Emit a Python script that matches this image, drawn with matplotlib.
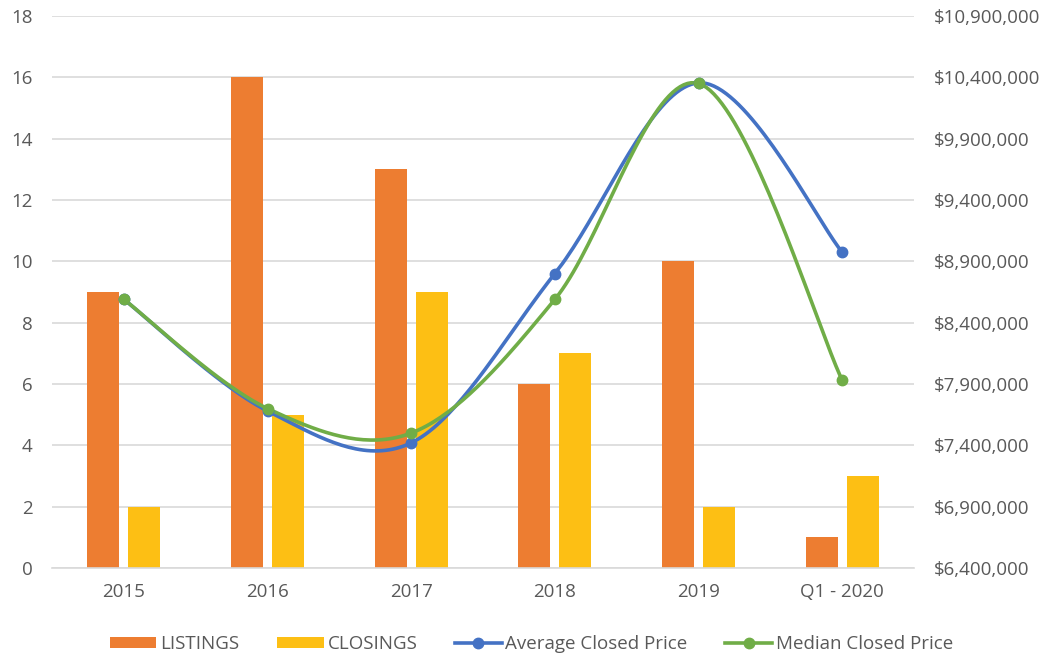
import numpy as np
import matplotlib.pyplot as plt
from matplotlib.ticker import FuncFormatter

plt.rcParams['font.family'] = ['Open Sans', 'DejaVu Sans']

categories = ['2015', '2016', '2017', '2018', '2019', 'Q1 - 2020']
listings = [9, 16, 13, 6, 10, 1]
closings = [2, 5, 9, 7, 2, 3]
avg_price = [8590000, 7680000, 7420000, 8800000, 10355000, 8975000]
median_price = [8590000, 7700000, 7500000, 8590000, 10350000, 7930000]

grey = '#595959'
grid = '#D9D9D9'


def smooth(x, y, n=40):
    # Excel-style smoothed line: cubic Bezier with Catmull-Rom control points
    x = np.asarray(x, float)
    y = np.asarray(y, float)
    px = np.concatenate([[x[0]], x, [x[-1]]])
    py = np.concatenate([[y[0]], y, [y[-1]]])
    xs, ys = [], []
    t = np.linspace(0, 1, n)
    for i in range(1, len(px) - 2):
        p0 = np.array([px[i], py[i]])
        p3 = np.array([px[i + 1], py[i + 1]])
        c1 = p0 + (p3 - np.array([px[i - 1], py[i - 1]])) / 6
        c2 = p3 - (np.array([px[i + 2], py[i + 2]]) - p0) / 6
        b = ((1 - t) ** 3)[:, None] * p0 + (3 * (1 - t) ** 2 * t)[:, None] * c1 \
            + (3 * (1 - t) * t ** 2)[:, None] * c2 + (t ** 3)[:, None] * p3
        xs.extend(b[:, 0])
        ys.extend(b[:, 1])
    return np.array(xs), np.array(ys)


fig = plt.figure(figsize=(10.48, 6.58), dpi=100)
ax = fig.add_axes([0.0496, 0.1368, 0.8226, 0.8389])
ax2 = ax.twinx()

x = np.arange(len(categories))
w = 0.2225
off = 0.1426
ax.bar(x - off, listings, w, color='#ED7D31', label='LISTINGS', zorder=2)
ax.bar(x + off, closings, w, color='#FDBF14', label='CLOSINGS', zorder=2)

ax.set_xlim(-0.5, len(categories) - 0.5)
ax.set_ylim(0, 18)
ax.set_yticks(range(0, 19, 2))
ax.yaxis.grid(True, color=grid, linewidth=1.2, zorder=0)
ax.set_axisbelow(True)
ax.set_xticks(x)
ax.set_xticklabels(categories)

sx, sy = smooth(x, avg_price)
ax2.plot(sx, sy, color='#4472C4', linewidth=2.6, solid_capstyle='round', zorder=3)
ax2.plot(x, avg_price, 'o', color='#4472C4', markersize=7.5, zorder=4)
sx, sy = smooth(x, median_price)
ax2.plot(sx, sy, color='#70AD47', linewidth=2.6, solid_capstyle='round', zorder=3)
ax2.plot(x, median_price, 'o', color='#70AD47', markersize=7.5, zorder=4)
ax2.set_ylim(6400000, 10900000)
ax2.set_yticks(np.arange(6400000, 10900001, 500000))
ax2.yaxis.set_major_formatter(FuncFormatter(lambda v, p: '${:,.0f}'.format(v)))

for a in (ax, ax2):
    for s in a.spines.values():
        s.set_visible(False)
    a.tick_params(length=0, colors=grey, labelsize=13.5)
ax.spines['bottom'].set_visible(True)
ax.spines['bottom'].set_color(grid)
ax.spines['bottom'].set_linewidth(1.2)
ax.tick_params(axis='x', pad=11)
ax.tick_params(axis='y', pad=14)
ax2.tick_params(axis='y', pad=14)

h1, l1 = ax.get_legend_handles_labels()
blue = plt.Line2D([], [], color='#4472C4', linewidth=2.6, marker='o', markersize=7.5)
green = plt.Line2D([], [], color='#70AD47', linewidth=2.6, marker='o', markersize=7.5)
leg = fig.legend(h1 + [blue, green], l1 + ['Average Closed Price', 'Median Closed Price'],
                 loc='center', bbox_to_anchor=(0.507, 0.021), ncol=4, frameon=False,
                 fontsize=13.5, handlelength=2.5, handleheight=0.55, handletextpad=0.2,
                 columnspacing=2.0, labelcolor=grey)

fig.savefig('out.png', dpi=100)
